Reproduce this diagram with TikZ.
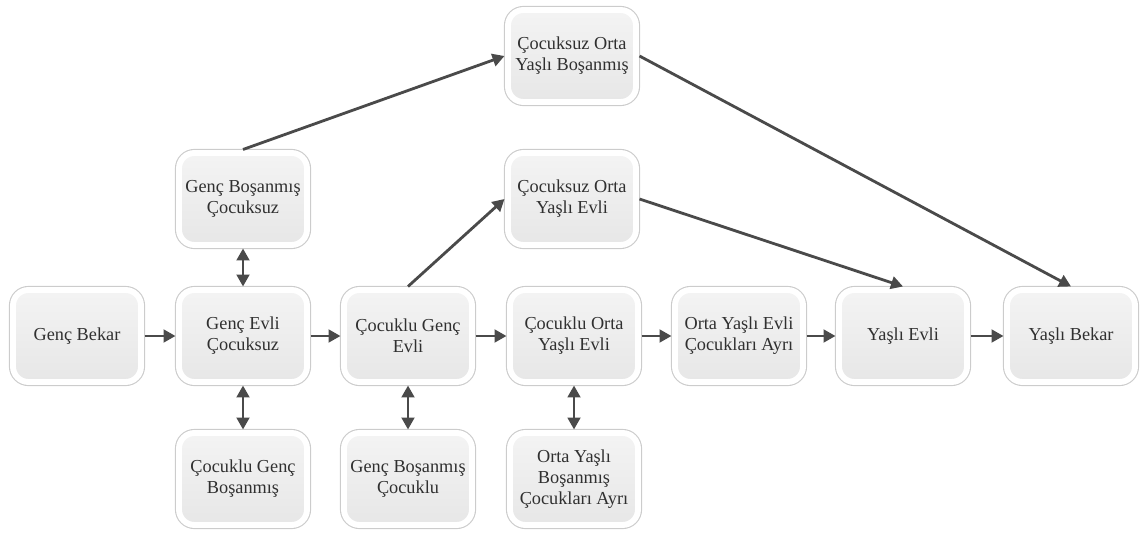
\documentclass[tikz,border=0pt]{standalone}
\usepackage{fontspec}
\setmainfont{Liberation Serif}
\usepackage{tikz}
\usepackage{xcolor}
\usetikzlibrary{arrows.meta}
\usetikzlibrary{shadows}
\definecolor{boxtext}{HTML}{303030}
\definecolor{arrowgray}{HTML}{4A4A4A}

\begin{document}
\begin{tikzpicture}[
		stage/.style={rounded corners=11pt, minimum width=3.2cm, minimum height=2.3cm, outer sep=2.5pt,
			align=center, text=boxtext, font=\fontsize{13}{14.8}\selectfont,
			drop shadow={opacity=0.2, shadow xshift=1.2pt, shadow yshift=-1.5pt},
			preaction={draw=gray!40, line width=5.8pt},
			draw=white, line width=4.2pt, top color=gray!9, bottom color=gray!19},
		flow/.style={-{Triangle[length=8.5pt, width=9pt]}, draw=arrowgray, line width=2pt},
		both/.style={{Triangle[length=8.5pt, width=9pt]}-{Triangle[length=8.5pt, width=9pt]}, draw=arrowgray, line width=2pt}]
				\useasboundingbox (0,0) rectangle (28.65,13.525);
				\node[stage] (gb) at ( 1.925,  5.125) {Genç Bekar};
				\node[stage] (gec) at ( 6.075,  5.125) {Genç Evli\\Çocuksuz};
				\node[stage] (cge) at (10.200,  5.125) {Çocuklu Genç\\Evli};
				\node[stage] (coye) at (14.350,  5.125) {Çocuklu Orta\\Yaşlı Evli};
				\node[stage] (oyeca) at (18.475,  5.125) {Orta Yaşlı Evli\\Çocukları Ayrı};
				\node[stage] (ye) at (22.575,  5.125) {Yaşlı Evli};
				\node[stage] (yb) at (26.775,  5.125) {Yaşlı Bekar};
				\node[stage] (gbcz) at ( 6.075,  8.550) {Genç Boşanmış\\Çocuksuz};
				\node[stage] (cgb) at ( 6.075,  1.550) {Çocuklu Genç\\Boşanmış};
				\node[stage] (gbc) at (10.200,  1.550) {Genç Boşanmış\\Çocuklu};
				\node[stage] (oybca) at (14.350,  1.550) {Orta Yaşlı\\Boşanmış\\Çocukları Ayrı};
				\node[stage] (coyev) at (14.300,  8.550) {Çocuksuz Orta\\Yaşlı Evli};
				\node[stage] (coyb) at (14.300, 12.125) {Çocuksuz Orta\\Yaşlı Boşanmış};
				\draw[flow] (gb) to (gec);
				\draw[flow] (gec) to (cge);
				\draw[flow] (cge) to (coye);
				\draw[flow] (coye) to (oyeca);
				\draw[flow] (oyeca) to (ye);
				\draw[flow] (ye) to (yb);
				\draw[both] (gbcz) to (gec);
				\draw[both] (gec) to (cgb);
				\draw[both] (cge) to (gbc);
				\draw[both] (coye) to (oybca);
				\draw[flow] (gbcz.north) to (coyb.west);
				\draw[flow] (cge.north) to (coyev.west);
				\draw[flow] (coyev.east) to (ye.north);
				\draw[flow] (coyb.east) to (yb.north);
			\end{tikzpicture}
\end{document}
